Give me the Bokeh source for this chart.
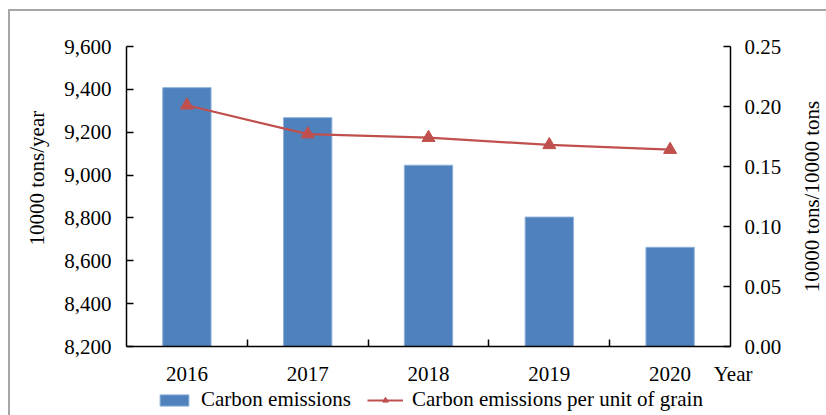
from bokeh.plotting import figure
from bokeh.layouts import column, row
from bokeh.models import (Range1d, LinearAxis, FixedTicker, NumeralTickFormatter,
                          Legend, LegendItem)
from bokeh.embed import file_html
from bokeh.resources import INLINE

# Data
years = ["2016", "2017", "2018", "2019", "2020"]
emissions = [9408, 9268, 9046, 8804, 8663]          # 10000 tons/year
per_unit_grain = [0.201, 0.177, 0.174, 0.168, 0.164]  # 10000 tons/10000 tons

left_ticks = [8200, 8400, 8600, 8800, 9000, 9200, 9400, 9600]
right_ticks = [0.0, 0.05, 0.10, 0.15, 0.20, 0.25]

FONT = "Liberation Serif"
FS = "21px"
BAR = "#4F81BD"
RED = "#C0504D"

n = len(years)
xs = [i + 0.5 for i in range(n)]

bar_style = dict(fill_color=BAR, line_color="#8fb0da", line_width=1)
line_style = dict(line_color=RED, line_width=2.2)
mark_style = dict(marker="triangle", size=13, fill_color=RED, line_color=RED)


def plain(fig):
    fig.grid.visible = False
    fig.outline_line_color = None
    fig.background_fill_color = "white"
    fig.border_fill_color = "white"


# ---- main chart -----------------------------------------------------------
p = figure(width=786, height=377, output_backend="svg", toolbar_location=None,
           x_range=Range1d(0, n), y_range=Range1d(8200, 9600),
           min_border_left=116, min_border_right=66, min_border_top=35,
           min_border_bottom=39)
plain(p)

p.extra_y_ranges = {"right": Range1d(0, 0.25)}

p.vbar(x=xs, top=emissions, bottom=8200, width=0.4, **bar_style)
p.line(x=xs, y=per_unit_grain, y_range_name="right", **line_style)
p.scatter(x=xs, y=per_unit_grain, y_range_name="right", **mark_style)

# x axis: year labels at category centres, "Year" at the right end,
# small inner ticks at the category boundaries
xa = p.xaxis[0]
xa.ticker = FixedTicker(ticks=xs + [n], minor_ticks=list(range(1, n)))
labels = {x: y for x, y in zip(xs, years)}
labels[n] = "\u00a0Year"
xa.major_label_overrides = labels
xa.major_tick_in = 0
xa.major_tick_out = 0
xa.minor_tick_in = 7
xa.minor_tick_out = 0
xa.minor_tick_line_color = "black"
xa.minor_tick_line_width = 1.5
xa.major_label_standoff = 15

# left axis
ya = p.yaxis[0]
ya.ticker = FixedTicker(ticks=left_ticks)
ya.formatter = NumeralTickFormatter(format="0,0")
ya.major_tick_in = 7
ya.major_tick_out = 0
ya.minor_tick_line_color = None
ya.major_label_standoff = 15
ya.axis_label = "\u00a0" * 7 + "10000 tons/year"
ya.axis_label_standoff = 12

# right axis (its title is set in the narrow strip beside the chart)
ra = LinearAxis(y_range_name="right", ticker=FixedTicker(ticks=right_ticks),
                formatter=NumeralTickFormatter(format="0.00"))
ra.major_tick_in = 7
ra.major_tick_out = 0
ra.minor_tick_line_color = None
ra.major_label_standoff = 14
p.add_layout(ra, "right")

for ax in (xa, ya, ra):
    ax.axis_line_color = "black"
    ax.axis_line_width = 1.5
    ax.major_tick_line_color = "black"
    ax.major_tick_line_width = 1.5
    ax.major_label_text_font = FONT
    ax.major_label_text_font_size = FS
    ax.major_label_text_color = "black"
    ax.axis_label_text_font = FONT
    ax.axis_label_text_font_size = FS
    ax.axis_label_text_font_style = "normal"
    ax.axis_label_text_color = "black"

# ---- right-hand title strip ----------------------------------------------
rf = figure(width=30, height=377, output_backend="svg", toolbar_location=None,
            x_range=Range1d(0, 1), y_range=Range1d(0, 0.25),
            x_axis_location=None,
            min_border_left=24, min_border_right=0, min_border_top=35,
            min_border_bottom=39)
plain(rf)
rt = rf.yaxis[0]
rt.ticker = FixedTicker(ticks=[])
rt.axis_line_color = None
rt.major_tick_line_color = None
rt.minor_tick_line_color = None
rt.axis_label = "10000 tons/10000 tons"
rt.axis_label_standoff = 0
rt.axis_label_text_font = FONT
rt.axis_label_text_font_size = FS
rt.axis_label_text_font_style = "normal"
rt.axis_label_text_color = "black"

# ---- legend strip under the chart ----------------------------------------
# The key glyphs reuse the series but lie below this strip's y range,
# so only the legend itself is visible here.
lf = figure(width=816, height=27, output_backend="svg", toolbar_location=None,
            x_range=Range1d(0, 1), y_range=Range1d(9700, 9800),
            min_border_left=116, min_border_right=0,
            min_border_top=0, min_border_bottom=0)
lf.axis.visible = False
plain(lf)

k_bar = lf.vbar(x=xs, top=emissions, bottom=8200, width=0.4, **bar_style)
k_line = lf.line(x=xs, y=per_unit_grain, **line_style)
k_mark = lf.scatter(x=xs, y=per_unit_grain, **mark_style)

legend = Legend(items=[LegendItem(label="Carbon emissions", renderers=[k_bar]),
                       LegendItem(label="Carbon emissions per unit of grain",
                                  renderers=[k_line, k_mark])],
                orientation="horizontal", location=(30, 3),
                glyph_width=36, glyph_height=14, label_standoff=9, spacing=16,
                padding=0, margin=0, border_line_color=None,
                background_fill_alpha=0, label_text_font=FONT,
                label_text_font_size=FS, label_text_color="black",
                label_height=14)
lf.add_layout(legend)

page = column(row(p, rf, spacing=0), lf, spacing=0,
              styles={"margin-left": "8px", "margin-top": "9px",
                      "border-left": "2px solid #a6a6a6",
                      "border-top": "2px solid #a6a6a6"})

open("out.html", "w").write(file_html(page, INLINE))
